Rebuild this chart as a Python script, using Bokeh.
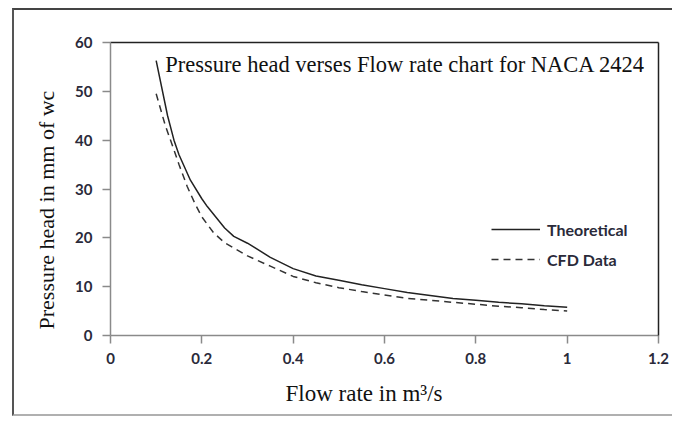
from bokeh.plotting import figure
from bokeh.models import (ColumnDataSource, FixedTicker, LinearAxis, Label, Legend,
                          LegendItem, Range1d, Title)
from bokeh.embed import file_html
from bokeh.resources import INLINE

# ---- data ----
theo_x = [0.10, 0.125, 0.139, 0.15, 0.175, 0.20, 0.212, 0.25, 0.27, 0.30, 0.35, 0.40,
          0.45, 0.50, 0.55, 0.60, 0.65, 0.70, 0.75, 0.80, 0.85, 0.90, 0.95, 1.00]
theo_y = [56.3, 45.0, 40.0, 37.0, 31.8, 28.0, 26.4, 22.0, 20.3, 18.9, 16.0, 13.7,
          12.2, 11.3, 10.4, 9.6, 8.8, 8.2, 7.6, 7.2, 6.8, 6.5, 6.1, 5.8]
cfd_x = [0.10, 0.12, 0.139, 0.15, 0.168, 0.185, 0.20, 0.226, 0.25, 0.30, 0.35, 0.40,
         0.45, 0.50, 0.55, 0.60, 0.65, 0.70, 0.75, 0.80, 0.85, 0.90, 0.95, 1.00]
cfd_y = [49.5, 43.0, 38.0, 35.0, 30.5, 27.0, 24.3, 21.0, 19.0, 16.3, 14.2, 12.1,
         10.8, 9.8, 9.0, 8.3, 7.6, 7.2, 6.8, 6.4, 6.0, 5.7, 5.3, 5.0]

x_ticks = [0, 0.2, 0.4, 0.6, 0.8, 1.0, 1.2]
x_tick_labels = ["0", "0.2", "0.4", "0.6", "0.8", "1", "1.2"]
y_ticks = [0, 10, 20, 30, 40, 50, 60]
y_tick_labels = ["0", "10", "20", "30", "40", "50", "60"]

series_names = ["Theoretical", "CFD Data"]
title_text = "Pressure head verses Flow rate chart for NACA 2424"
x_label = "Flow rate in m\u00b3/s"
y_label = "Pressure head in mm of wc"

SERIF = "Liberation Serif"
SANS = "Lato"

p = figure(width=660, height=408, output_backend="svg", toolbar_location=None,
           x_range=Range1d(0, 1.2), y_range=Range1d(0, 60),
           min_border_left=96, min_border_right=16, min_border_top=32,
           min_border_bottom=82)
p.outline_line_color = None
p.xgrid.visible = False
p.ygrid.visible = False
p.background_fill_color = "white"
p.border_fill_color = "white"
# outer frame of the picture (left, top and bottom edges)
p.styles = {"margin-left": "12px", "margin-top": "8px",
            "border-left": "2px solid #555555",
            "border-top": "2px solid #444444",
            "border-bottom": "2px solid #b0b0b0"}

src_t = ColumnDataSource(dict(x=theo_x, y=theo_y))
src_c = ColumnDataSource(dict(x=cfd_x, y=cfd_y))
r1 = p.line("x", "y", source=src_t, line_color="#222222", line_width=1.5)
r2 = p.line("x", "y", source=src_c, line_color="#333333", line_width=1.5,
            line_dash="7 5")

for ax, ticks, labels in ((p.xaxis[0], x_ticks, x_tick_labels),
                          (p.yaxis[0], y_ticks, y_tick_labels)):
    ax.ticker = FixedTicker(ticks=ticks)
    ax.major_label_overrides = {t: l for t, l in zip(ticks, labels)}
    ax.axis_line_color = "#8a8a8a"
    ax.axis_line_width = 1.5
    ax.major_tick_line_color = "#8a8a8a"
    ax.major_tick_line_width = 1.5
    ax.major_tick_out = 8
    ax.major_tick_in = 0
    ax.minor_tick_line_color = None
    ax.major_label_text_font = SANS
    ax.major_label_text_font_size = "15px"
    ax.major_label_text_font_style = "bold"
    ax.major_label_text_color = "#2a2a3a"

p.xaxis[0].major_label_standoff = 9
p.yaxis[0].major_label_standoff = 10

# dark top and right frame edges
for side in ("above", "right"):
    a = LinearAxis(ticker=FixedTicker(ticks=[]), axis_line_color="#222222",
                   axis_line_width=1.5, major_tick_line_color=None,
                   minor_tick_line_color=None, major_label_text_font_size="0px")
    p.add_layout(a, side)

# axis titles (placed off-centre as in the reference)
p.add_layout(Title(text=x_label, text_font=SERIF, text_font_size="23px",
                   text_font_style="normal", text_color="#111111",
                   align="left", offset=175, standoff=25), "below")
p.add_layout(Title(text=y_label, text_font=SERIF, text_font_size="22px",
                   text_font_style="normal", text_color="#111111",
                   align="left", offset=6, standoff=28), "left")

p.add_layout(Label(x=0.12, y=55.5, text=title_text, text_font=SERIF,
                   text_font_size="22.5px", text_color="#111111",
                   text_baseline="middle"))

legend = Legend(items=[LegendItem(label=series_names[0], renderers=[r1]),
                       LegendItem(label=series_names[1], renderers=[r2])],
                location=(381, 66), padding=0, margin=0, spacing=10,
                glyph_width=49, glyph_height=20, label_height=20,
                label_standoff=7, border_line_color=None,
                background_fill_alpha=0, label_text_font=SANS,
                label_text_font_size="16px", label_text_font_style="bold",
                label_text_color="#2a2a3a")
p.add_layout(legend)

open("out.html", "w").write(file_html(p, INLINE))
